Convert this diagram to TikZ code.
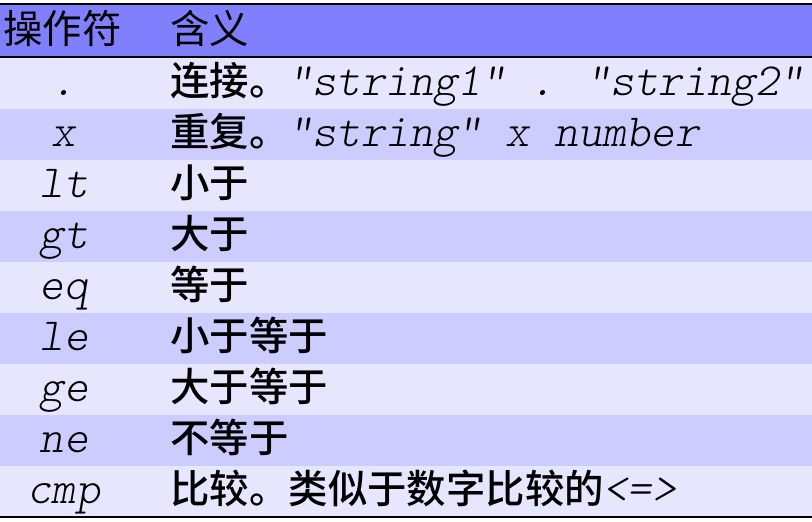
\documentclass[tikz,border=0pt]{standalone}
\usepackage{fontspec}
\usepackage{tikz}
\newfontfamily\cjk{Noto Sans CJK SC}
\newfontfamily\cjkmed{Noto Sans CJK SC Medium}
\newfontfamily\opfont{lmmonolt10-oblique.otf}
\newcommand\opmono{\opfont}
\definecolor{headblue}{RGB}{128,128,255}
\definecolor{rowlight}{RGB}{230,230,255}
\definecolor{rowdark}{RGB}{204,204,255}
\tikzset{
    op/.style={anchor=base, inner sep=0pt, font=\opmono\fontsize{23}{24}\selectfont},
    meaning/.style={anchor=base west, inner sep=0pt, font=\fontsize{19.7}{22}\selectfont\cjkmed},
    head/.style={anchor=base west, inner sep=0pt, font=\fontsize{19.7}{22}\selectfont\cjk},
}
\newcommand\opcode{\fontsize{23}{24}\selectfont\opmono}

\begin{document}
\begin{tikzpicture}[x=0.5pt, y=-0.5pt]
            \useasboundingbox (0,0) rectangle (812,521);

            % header
            \fill[headblue] (0,4) rectangle (812,57);
            \node[head] (headop) at (3,43) {操作符};
            \node[head] (headmean) at (170,43) {含义};

            % rows
            \fill[rowlight] (0,57) rectangle (812,109);
            \node[op] (opcat) at (64,95) {.};
            \node[meaning] (meancat) at (170,95) {连接。\opcode "string1" . "string2"};

            \fill[rowdark] (0,109) rectangle (812,160);
            \node[op] (oprep) at (64,146) {x};
            \node[meaning] (meanrep) at (170,146) {重复。\opcode "string" x number};

            \fill[rowlight] (0,160) rectangle (812,211);
            \node[op] (oplt) at (64,197) {lt};
            \node[meaning] (meanlt) at (170,197) {小于};

            \fill[rowdark] (0,211) rectangle (812,262);
            \node[op] (opgt) at (64,248) {gt};
            \node[meaning] (meangt) at (170,248) {大于};

            \fill[rowlight] (0,262) rectangle (812,313);
            \node[op] (opeq) at (64,299) {eq};
            \node[meaning] (meaneq) at (170,299) {等于};

            \fill[rowdark] (0,313) rectangle (812,364);
            \node[op] (ople) at (64,350) {le};
            \node[meaning] (meanle) at (170,350) {小于等于};

            \fill[rowlight] (0,364) rectangle (812,415);
            \node[op] (opge) at (64,401) {ge};
            \node[meaning] (meange) at (170,401) {大于等于};

            \fill[rowdark] (0,415) rectangle (812,466);
            \node[op] (opne) at (64,452) {ne};
            \node[meaning] (meanne) at (170,452) {不等于};

            \fill[rowlight] (0,466) rectangle (812,517);
            \node[op] (opcmp) at (64,503) {cmp};
            \node[meaning] (meancmp) at (170,503) {比较。类似于数字比较的\opcode <=>};

            % rules
            \draw[line width=1pt] (0,4) -- (812,4);
            \draw[line width=1pt] (0,57) -- (812,57);
            \draw[line width=1pt] (0,517) -- (812,517);
        \end{tikzpicture}
\end{document}
